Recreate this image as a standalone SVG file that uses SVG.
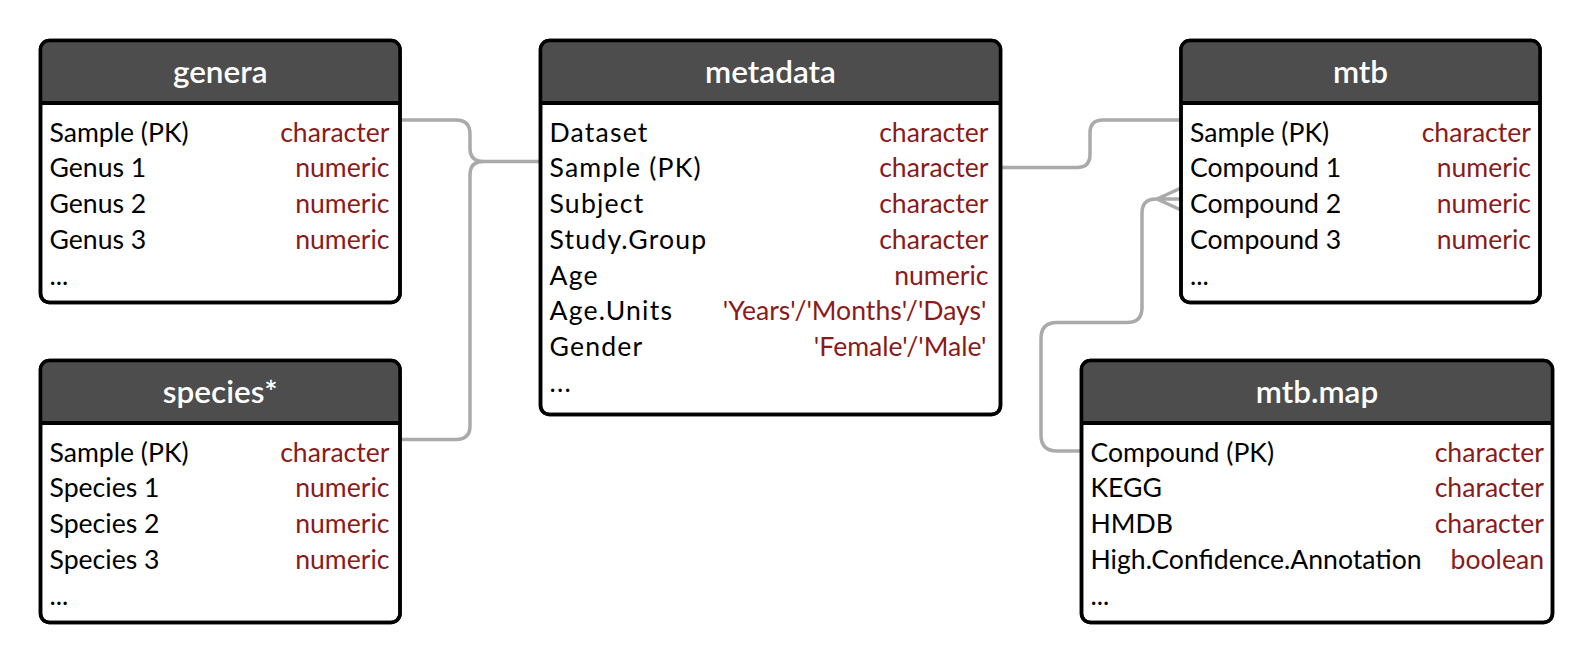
<svg xmlns="http://www.w3.org/2000/svg" width="1594" height="665" viewBox="0 0 1594 665">
<style>
.box{fill:#fff;stroke:#000;stroke-width:3.5}
.frame{fill:none;stroke:#000;stroke-width:3.5}
.hdr{fill:#4d4d4d}
.sep{stroke:#000;stroke-width:4}
.title{font-family:Lato,"Liberation Sans",sans-serif;font-weight:600;font-size:31.5px;fill:#fff;text-anchor:middle}
.f{font-family:Lato,"Liberation Sans",sans-serif;font-size:26.6px;fill:#000}
.fw{font-family:Lato,"Liberation Sans",sans-serif;font-size:26.6px;fill:#000;letter-spacing:1.2px}
.t{font-family:Lato,"Liberation Sans",sans-serif;font-size:26.6px;fill:#8b1a1a;text-anchor:end}
.conn{fill:none;stroke:#aaa;stroke-width:3.5}
</style>
<g id="connectors">
<path class="conn" d="M399,120 H456 Q470,120 470,134 V148 Q470,161.5 483,161.5 H541"/>
<path class="conn" d="M399,439.5 H456 Q470,439.5 470,426 V175 Q470,161.5 483,161.5"/>
<path class="conn" d="M999,167.5 H1077 Q1090,167.5 1090,154.5 V133 Q1090,120 1103,120 H1182"/>
<path class="conn" d="M1082,451 H1057 Q1041,451 1041,435 V338.5 Q1041,322.5 1057,322.5 H1127 Q1142,322.5 1142,307.5 V213 Q1142,199 1156,199 H1182 M1157,199 L1181,188 M1157,199 L1181,210"/>
</g>
<g id="genera">
<rect class="box" x="40.5" y="40.5" width="359.5" height="262" rx="9"/>
<path class="hdr" d="M40.5,103 V49.5 Q40.5,40.5 49.5,40.5 H391 Q400,40.5 400,49.5 V103 Z"/>
<line class="sep" x1="40.5" y1="103" x2="400" y2="103"/>
<rect class="frame" x="40.5" y="40.5" width="359.5" height="262" rx="9"/>
<text class="title" x="220.2" y="83">genera</text>
<text class="f" x="49.5" y="141.7">Sample (PK)</text><text class="t" x="389.5" y="141.7">character</text>
<text class="f" x="49.5" y="177.4">Genus 1</text><text class="t" x="389.5" y="177.4">numeric</text>
<text class="f" x="49.5" y="213.2">Genus 2</text><text class="t" x="389.5" y="213.2">numeric</text>
<text class="f" x="49.5" y="248.9">Genus 3</text><text class="t" x="389.5" y="248.9">numeric</text>
<text class="f" x="49.5" y="284.7">...</text>
</g>
<g id="species">
<rect class="box" x="40.5" y="360.5" width="359.5" height="262" rx="9"/>
<path class="hdr" d="M40.5,423 V369.5 Q40.5,360.5 49.5,360.5 H391 Q400,360.5 400,369.5 V423 Z"/>
<line class="sep" x1="40.5" y1="423" x2="400" y2="423"/>
<rect class="frame" x="40.5" y="360.5" width="359.5" height="262" rx="9"/>
<text class="title" x="220.2" y="403">species*</text>
<text class="f" x="49.5" y="461.7">Sample (PK)</text><text class="t" x="389.5" y="461.7">character</text>
<text class="f" x="49.5" y="497.4">Species 1</text><text class="t" x="389.5" y="497.4">numeric</text>
<text class="f" x="49.5" y="533.2">Species 2</text><text class="t" x="389.5" y="533.2">numeric</text>
<text class="f" x="49.5" y="568.9">Species 3</text><text class="t" x="389.5" y="568.9">numeric</text>
<text class="f" x="49.5" y="604.7">...</text>
</g>
<g id="metadata">
<rect class="box" x="540.5" y="40.5" width="460" height="374" rx="9"/>
<path class="hdr" d="M540.5,103 V49.5 Q540.5,40.5 549.5,40.5 H991.5 Q1000.5,40.5 1000.5,49.5 V103 Z"/>
<line class="sep" x1="540.5" y1="103" x2="1000.5" y2="103"/>
<rect class="frame" x="540.5" y="40.5" width="460" height="374" rx="9"/>
<text class="title" x="770.5" y="83">metadata</text>
<text class="fw" x="549.5" y="141.7">Dataset</text><text class="t" x="988.5" y="141.7">character</text>
<text class="fw" x="549.5" y="177.4">Sample (PK)</text><text class="t" x="988.5" y="177.4">character</text>
<text class="fw" x="549.5" y="213.2">Subject</text><text class="t" x="988.5" y="213.2">character</text>
<text class="fw" x="549.5" y="248.9">Study.Group</text><text class="t" x="988.5" y="248.9">character</text>
<text class="fw" x="549.5" y="284.7">Age</text><text class="t" x="988.5" y="284.7">numeric</text>
<text class="fw" x="549.5" y="320.4">Age.Units</text><text class="t" x="986.5" y="320.4">'Years'/'Months'/'Days'</text>
<text class="fw" x="549.5" y="356.2">Gender</text><text class="t" x="986.5" y="356.2">'Female'/'Male'</text>
<text class="fw" x="549.5" y="392">...</text>
</g>
<g id="mtb">
<rect class="box" x="1181" y="40.5" width="359" height="262" rx="9"/>
<path class="hdr" d="M1181,103 V49.5 Q1181,40.5 1190,40.5 H1531 Q1540,40.5 1540,49.5 V103 Z"/>
<line class="sep" x1="1181" y1="103" x2="1540" y2="103"/>
<rect class="frame" x="1181" y="40.5" width="359" height="262" rx="9"/>
<text class="title" x="1360.5" y="83">mtb</text>
<text class="f" x="1190" y="141.7">Sample (PK)</text><text class="t" x="1531" y="141.7">character</text>
<text class="f" x="1190" y="177.4">Compound 1</text><text class="t" x="1531" y="177.4">numeric</text>
<text class="f" x="1190" y="213.2">Compound 2</text><text class="t" x="1531" y="213.2">numeric</text>
<text class="f" x="1190" y="248.9">Compound 3</text><text class="t" x="1531" y="248.9">numeric</text>
<text class="f" x="1190" y="284.7">...</text>
</g>
<g id="mtb-map">
<rect class="box" x="1081.5" y="360.5" width="471" height="262" rx="9"/>
<path class="hdr" d="M1081.5,423 V369.5 Q1081.5,360.5 1090.5,360.5 H1543.5 Q1552.5,360.5 1552.5,369.5 V423 Z"/>
<line class="sep" x1="1081.5" y1="423" x2="1552.5" y2="423"/>
<rect class="frame" x="1081.5" y="360.5" width="471" height="262" rx="9"/>
<text class="title" x="1317" y="403">mtb.map</text>
<text class="f" x="1090.5" y="461.7">Compound (PK)</text><text class="t" x="1544" y="461.7">character</text>
<text class="f" x="1090.5" y="497.4">KEGG</text><text class="t" x="1544" y="497.4">character</text>
<text class="f" x="1090.5" y="533.2">HMDB</text><text class="t" x="1544" y="533.2">character</text>
<text class="f" x="1090.5" y="568.9">High.Confidence.Annotation</text><text class="t" x="1544" y="568.9">boolean</text>
<text class="f" x="1090.5" y="604.7">...</text>
</g>
</svg>
